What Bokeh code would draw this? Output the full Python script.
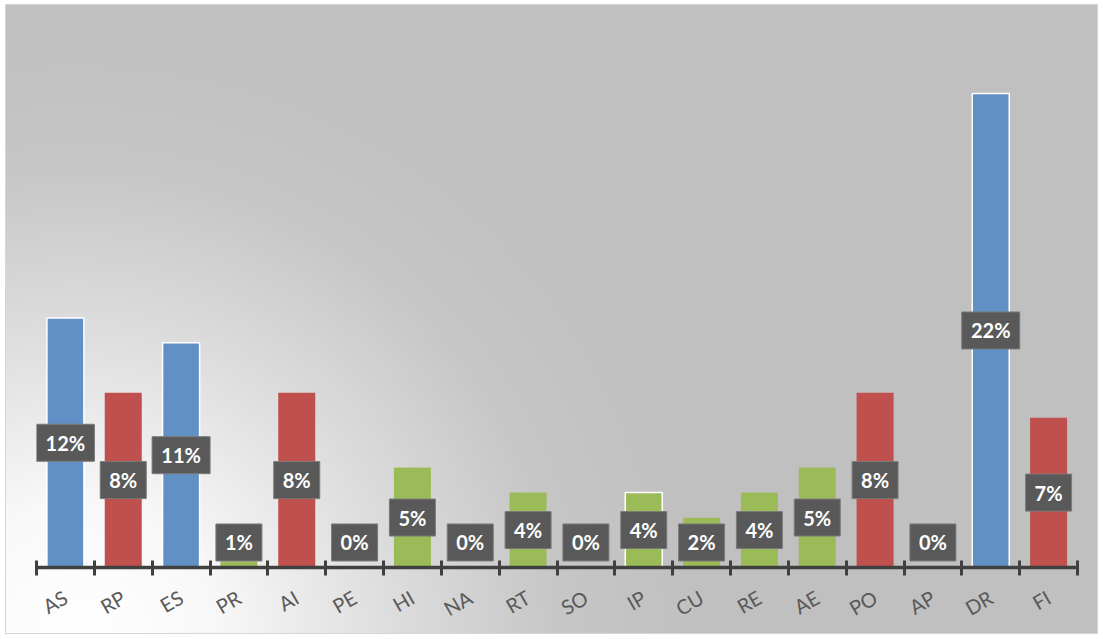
from bokeh.plotting import figure
from bokeh.models import Range1d, LinearAxis, FixedTicker, ColumnDataSource
from bokeh.core.properties import value
from bokeh.embed import file_html
from bokeh.resources import INLINE

# ---- data ----
categories = ["AS", "RP", "ES", "PR", "AI", "PE", "HI", "NA", "RT",
              "SO", "IP", "CU", "RE", "AE", "PO", "AP", "DR", "FI"]
shares_pct = [11.76, 8.24, 10.59, 0.3, 8.24, 0.0, 4.71, 0.0, 3.53,
              0.0, 3.53, 2.35, 3.53, 4.71, 8.24, 0.0, 22.35, 7.06]
labels = ["12%", "8%", "11%", "1%", "8%", "0%", "5%", "0%", "4%",
          "0%", "4%", "2%", "4%", "5%", "8%", "0%", "22%", "7%"]
groups = ["blue", "red", "blue", "green", "red", "green", "green", "green", "green",
          "green", "green", "green", "green", "green", "red", "green", "blue", "red"]
highlight = ["AS", "ES", "IP", "DR"]

palette = {"blue": "#6190c4", "red": "#c0504d", "green": "#9bbb59"}

n = len(categories)
xc = [i + 0.5 for i in range(n)]
colors = [palette[g] for g in groups]
outlines = ["white" if c in highlight else None for c in categories]
label_floor = 1.18
label_y = [max(v / 2.0, label_floor) for v in shares_pct]
box_w = [22 + 12 * len(s) for s in labels]

src = ColumnDataSource(dict(x=xc, top=shares_pct, color=colors, outline=outlines,
                            ly=label_y, lab=labels, bw=box_w))

p = figure(width=1093, height=630, output_backend="svg", toolbar_location=None,
           x_range=Range1d(0, n), y_range=Range1d(0, 25.74),
           x_axis_location=None, y_axis_location=None,
           min_border_left=30, min_border_right=22, min_border_top=16, min_border_bottom=68)
p.grid.visible = False
p.outline_line_color = None
p.background_fill_alpha = 0
p.border_fill_alpha = 0
p.styles = {
    "background": "radial-gradient(ellipse 620px 600px at 70px 630px, #ffffff 0%, #f8f8f8 22%, #dcdcdc 52%, #c6c6c6 78%, #c0c0c0 100%)",
    "background-color": "#c0c0c0",
    "border": "1px solid #d6d6d6",
    "margin-left": "5px",
    "margin-top": "4px",
}

p.vbar(x="x", top="top", width=0.64, bottom=0, source=src,
       fill_color="color", line_color="outline", line_width=1.5)

p.rect(x="x", y="ly", width="bw", height=37, width_units="screen", height_units="screen",
       source=src, fill_color="#595959", line_color="#7a7a7a", line_width=1)
p.text(x="x", y="ly", text="lab", source=src, text_color="white",
       text_font=value("Lato"), text_font_style="bold", text_font_size="20px",
       text_align="center", text_baseline="middle")

# category axis: labels at centers, tick marks (minor ticks) at category boundaries
axis = LinearAxis(ticker=FixedTicker(ticks=xc, minor_ticks=list(range(n + 1))),
                  major_label_overrides={x: c for x, c in zip(xc, categories)})
axis.axis_line_color = "#404040"
axis.axis_line_width = 3.5
axis.major_tick_line_color = None
axis.minor_tick_line_color = "#404040"
axis.minor_tick_line_width = 3
axis.minor_tick_in = 7
axis.minor_tick_out = 8
axis.major_tick_in = 0
axis.major_tick_out = 0
axis.major_label_orientation = 0.52
axis.major_label_text_font = "Lato"
axis.major_label_text_font_size = "20px"
axis.major_label_text_color = "#595959"
axis.major_label_standoff = 20
p.add_layout(axis, "below")

open("out.html", "w").write(file_html(p, INLINE))
